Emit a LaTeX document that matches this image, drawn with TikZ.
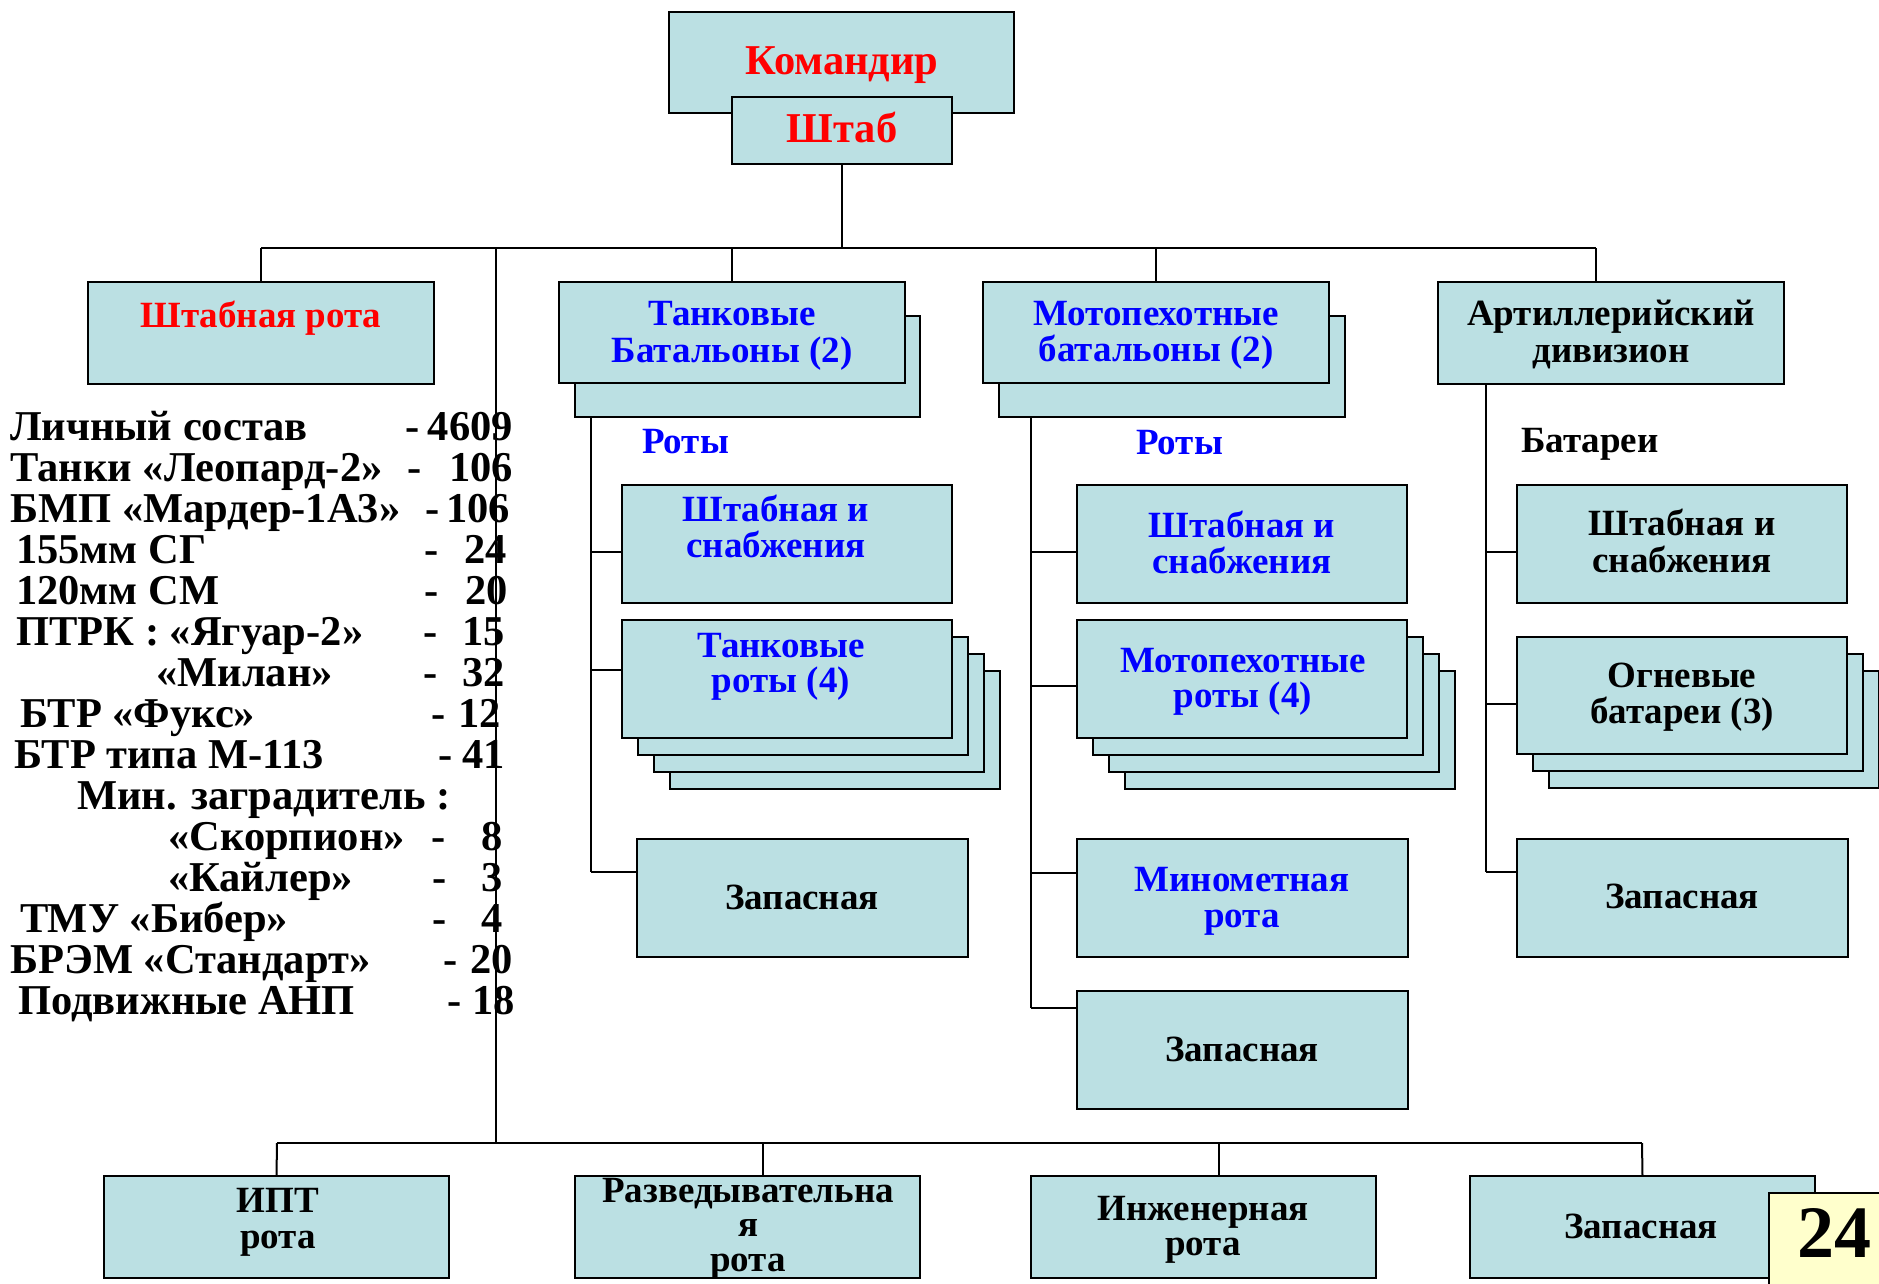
\documentclass[tikz,border=0pt]{standalone}
\usepackage{fontspec}
\setmainfont{Liberation Serif}
\definecolor{boxfill}{RGB}{187,224,227}
\definecolor{pagefill}{RGB}{255,255,204}
\definecolor{tred}{RGB}{255,0,0}
\definecolor{tblue}{RGB}{0,0,255}
\tikzset{
  box/.style={draw=black, line width=2pt, fill=boxfill, rectangle, inner sep=0pt, outer sep=0pt, anchor=north west},
  lbl/.style={anchor=base, inner sep=0pt, font=\bfseries\fontsize{37}{40}\selectfont},
  big/.style={anchor=base, inner sep=0pt, font=\bfseries\fontsize{42.5}{44}\selectfont},
  lst/.style={inner sep=0pt, font=\bfseries\fontsize{42.5}{44}\selectfont},
  conn/.style={line width=2pt, draw=black}
}
\newcommand\bx[5]{\node[box, minimum width=#4pt, minimum height=#5pt] (#1) at (#2,#3) {};}
\newcommand\li[7]{%
  \node[lst,anchor=base west] (lt#1) at (#3,#2) {#4};
  \node[lst,anchor=base west] (ld#1) at (#5,#2) {-};
  \node[lst,anchor=base east] (ln#1) at (#7,#2) {#6};}
\begin{document}
\begin{tikzpicture}[x=1pt,y=-1pt]
\useasboundingbox (0,0) rectangle (1879,1284);
% ---- bus coordinates
\coordinate (busL) at (261,248);
\coordinate (busR) at (1596,248);
\coordinate (mainT) at (496,248);
\coordinate (mainB) at (496,1143);
\coordinate (bbusL) at (277,1143);
\coordinate (bbusR) at (1642,1143);
\coordinate (dr2) at (763,1143);
\coordinate (dr3) at (1219,1143);
% ---- top
\bx{kom}{669}{12}{345}{101}
\bx{shtab}{732}{97}{220}{67}
\node[big, text=tred] (komt) at (842,75) {Командир};
\node[big, text=tred] (shtabt) at (842,143) {Штаб};
\draw[conn] (shtab.south) -- (shtab.south |- busL);
\draw[conn] (busL) -- (busR);
% ---- level 2 boxes
\bx{srota}{88}{282}{346}{102}
\bx{tbB}{575}{316}{345}{101}
\bx{tb}{559}{282}{346}{101}
\bx{mbB}{999}{316}{346}{101}
\bx{mb}{983}{282}{346}{101}
\bx{art}{1438}{282}{346}{102}
\draw[conn] (busL) -- (srota.north);
\draw[conn] (tb.north |- busL) -- (tb.north);
\draw[conn] (mb.north |- busL) -- (mb.north);
\draw[conn] (busR) -- (busR |- art.north);
\node[lbl, text=tred] (srotat) at (261,327) {Штабная рота};
\node[lbl, text=tblue] (tbt1) at (732,325) {Танковые};
\node[lbl, text=tblue] (tbt2) at (732,362) {Батальоны (2)};
\node[lbl, text=tblue] (mbt1) at (1156,325) {Мотопехотные};
\node[lbl, text=tblue] (mbt2) at (1156,361) {батальоны (2)};
\node[lbl] (artt1) at (1611,325) {Артиллерийский};
\node[lbl] (artt2) at (1611,362) {дивизион};
% ---- main vertical and bottom bus
\draw[conn] (mainT) -- (mainB);
\draw[conn] (bbusL) -- (bbusR);
% ---- tank branch
\coordinate (tv) at (591,417);
\coordinate (tj1) at (591,552);
\coordinate (tj2) at (591,670);
\coordinate (tj3) at (591,872);
\node[lbl, anchor=base west, text=tblue] (troty) at (642,453) {Роты};
\bx{ts}{622}{485}{330}{118}
\bx{tr3}{670}{671}{330}{118}
\bx{tr2}{654}{654}{330}{118}
\bx{tr1}{638}{637}{330}{118}
\bx{tr}{622}{620}{330}{118}
\bx{tz}{637}{839}{331}{118}
\draw[conn] (tv) -- (tj3);
\draw[conn] (tj1) -- (tj1 -| ts.west);
\draw[conn] (tj2) -- (tj2 -| tr.west);
\draw[conn] (tj3) -- (tj3 -| tz.west);
\node[lbl, text=tblue] (tst1) at (776,521) {Штабная и};
\node[lbl, text=tblue] (tst2) at (776,557) {снабжения};
\node[lbl, text=tblue] (trt1) at (781,657) {Танковые};
\node[lbl, text=tblue] (trt2) at (781,692) {роты (4)};
\node[lbl] (tzt) at (802,909) {Запасная};
% ---- moto branch
\coordinate (mv) at (1031,417);
\coordinate (mj1) at (1031,552);
\coordinate (mj2) at (1031,686);
\coordinate (mj3) at (1031,873);
\coordinate (mj4) at (1031,1008);
\node[lbl, anchor=base west, text=tblue] (mroty) at (1136,454) {Роты};
\bx{ms}{1077}{485}{330}{118}
\bx{mr3}{1125}{671}{330}{118}
\bx{mr2}{1109}{654}{330}{118}
\bx{mr1}{1093}{637}{330}{118}
\bx{mr}{1077}{620}{330}{118}
\bx{mm}{1077}{839}{331}{118}
\bx{mz}{1077}{991}{331}{118}
\draw[conn] (mv) -- (mj4);
\draw[conn] (mj1) -- (mj1 -| ms.west);
\draw[conn] (mj2) -- (mj2 -| mr.west);
\draw[conn] (mj3) -- (mj3 -| mm.west);
\draw[conn] (mj4) -- (mj4 -| mz.west);
\node[lbl, text=tblue] (mst1) at (1242,537) {Штабная и};
\node[lbl, text=tblue] (mst2) at (1242,573) {снабжения};
\node[lbl, text=tblue] (mrt1) at (1243,672) {Мотопехотные};
\node[lbl, text=tblue] (mrt2) at (1243,707) {роты (4)};
\node[lbl, text=tblue] (mmt1) at (1242,891) {Минометная};
\node[lbl, text=tblue] (mmt2) at (1242,927) {рота};
\node[lbl] (mzt) at (1242,1061) {Запасная};
% ---- artillery branch
\coordinate (av) at (1486,384);
\coordinate (aj1) at (1486,552);
\coordinate (aj2) at (1486,704);
\coordinate (aj3) at (1486,872);
\node[lbl, anchor=base west] (abat) at (1521,452) {Батареи};
\bx{as}{1517}{485}{330}{118}
\bx{af2}{1549}{671}{330}{117}
\bx{af1}{1533}{654}{330}{117}
\bx{af}{1517}{637}{330}{117}
\bx{az}{1517}{839}{331}{118}
\draw[conn] (av) -- (aj3);
\draw[conn] (aj1) -- (aj1 -| as.west);
\draw[conn] (aj2) -- (aj2 -| af.west);
\draw[conn] (aj3) -- (aj3 -| az.west);
\node[lbl] (ast1) at (1682,535) {Штабная и};
\node[lbl] (ast2) at (1682,572) {снабжения};
\node[lbl] (aft1) at (1682,687) {Огневые};
\node[lbl] (aft2) at (1682,723) {батареи (3)};
\node[lbl] (azt) at (1682,908) {Запасная};
% ---- bottom row
\bx{ipt}{104}{1176}{345}{102}
\bx{razv}{575}{1176}{345}{102}
\bx{ing}{1031}{1176}{345}{102}
\bx{zap}{1470}{1176}{345}{102}
\draw[conn] (bbusL) -- (ipt.north);
\draw[conn] (dr2) -- (dr2 |- razv.north);
\draw[conn] (dr3) -- (dr3 |- ing.north);
\draw[conn] (bbusR) -- (zap.north);
\node[lbl] (iptt1) at (278,1212) {ИПТ};
\node[lbl] (iptt2) at (278,1248) {рота};
\node[lbl] (razvt1) at (748,1202) {Разведывательна};
\node[lbl] (razvt2) at (748,1236) {я};
\node[lbl] (razvt3) at (748,1271) {рота};
\node[lbl] (ingt1) at (1203,1220) {Инженерная};
\node[lbl] (ingt2) at (1203,1255) {рота};
\node[lbl] (zapt) at (1641,1238) {Запасная};
% ---- page number
\node[box, fill=pagefill, minimum width=112pt, minimum height=92pt] (page) at (1769,1193) {};
\node[anchor=base, inner sep=0pt, font=\bfseries\fontsize{74}{80}\selectfont] (paget) at (1834,1257) {24};
% ---- list
\li{1}{440}{10}{Личный состав}{405}{4609}{513}
\li{2}{481}{10}{Танки «Леопард-2»}{407}{106}{513}
\li{3}{522}{10}{БМП «Мардер-1А3»}{425}{106}{510}
\li{4}{563}{16}{155мм СГ}{424}{24}{507}
\li{5}{604}{16}{120мм СМ}{424}{20}{508}
\li{6}{645}{16}{ПТРК : «Ягуар-2»}{423}{15}{505}
\li{7}{686}{156}{«Милан»}{423}{32}{505}
\li{8}{727}{20}{БТР «Фукс»}{431}{12}{501}
\li{9}{768}{14}{БТР типа М-113}{438}{41}{505}
\node[lst, anchor=base west] (lt10) at (77,809) {Мин. заградитель :};
\li{11}{850}{168}{«Скорпион»}{431}{8}{503}
\li{12}{891}{168}{«Кайлер»}{432}{3}{503}
\li{13}{932}{20}{ТМУ «Бибер»}{432}{4}{503}
\li{14}{973}{10}{БРЭМ «Стандарт»}{443}{20}{513}
\li{15}{1014}{18}{Подвижные АНП}{447}{18}{515}
\end{tikzpicture}
\end{document}
